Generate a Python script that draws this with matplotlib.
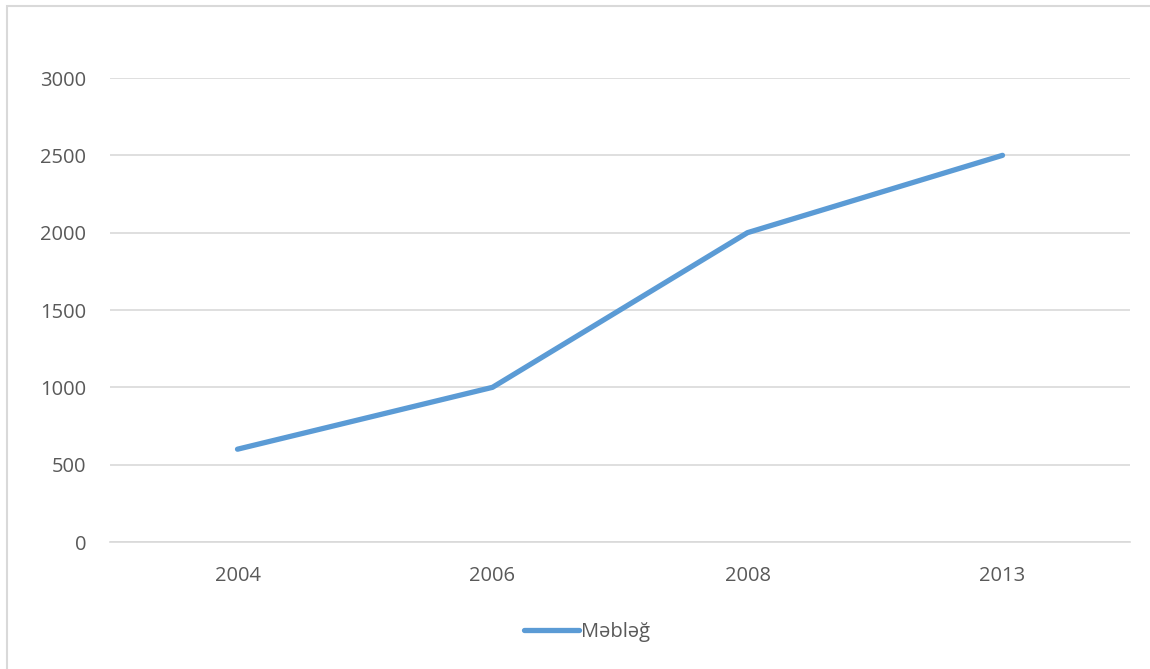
import numpy as np
import matplotlib.pyplot as plt
from matplotlib.patches import Rectangle

years = ['2004', '2006', '2008', '2013']
amounts = [600, 1000, 2000, 2500]
yticks = [0, 500, 1000, 1500, 2000, 2500, 3000]

plt.rcParams['font.family'] = ['Open Sans', 'DejaVu Sans']

fig = plt.figure(figsize=(11.5, 6.69), dpi=100)
ax = fig.add_axes([110 / 1150, 1 - 542 / 669, 1020 / 1150, 464 / 669])

x = np.arange(len(years))
ax.plot(x, amounts, color='#5B9BD5', linewidth=3.8, solid_capstyle='round',
        solid_joinstyle='round', label='Məbləğ', zorder=3)

ax.set_xlim(-0.5, len(years) - 0.5)
ax.set_ylim(0, 3000)
ax.set_xticks(x)
ax.set_xticklabels(years)
ax.set_yticks(yticks)
ax.grid(axis='y', color='#D9D9D9', linewidth=1.2)
ax.set_axisbelow(True)
for s in ['top', 'right', 'left']:
    ax.spines[s].set_visible(False)
ax.spines['bottom'].set_color('#D9D9D9')
ax.spines['bottom'].set_linewidth(1.2)
ax.tick_params(length=0, labelsize=14.5, colors='#595959')
ax.tick_params(axis='x', pad=17)
ax.tick_params(axis='y', pad=17)

leg = fig.legend(loc='center', bbox_to_anchor=(587 / 1150, 1 - 632 / 669), frameon=False,
                 fontsize=14.5, handlelength=2.7, handletextpad=0.1)
for t in leg.get_texts():
    t.set_color('#595959')

# outer chart border (left and top edges visible in the crop)
fig.patches.append(Rectangle((7 / 1150, -0.05), 1.2, 1 - 6 / 669 + 0.05,
                             transform=fig.transFigure, fill=False,
                             edgecolor='#D9D9D9', linewidth=1.5))

fig.savefig('out.png', dpi=100)
